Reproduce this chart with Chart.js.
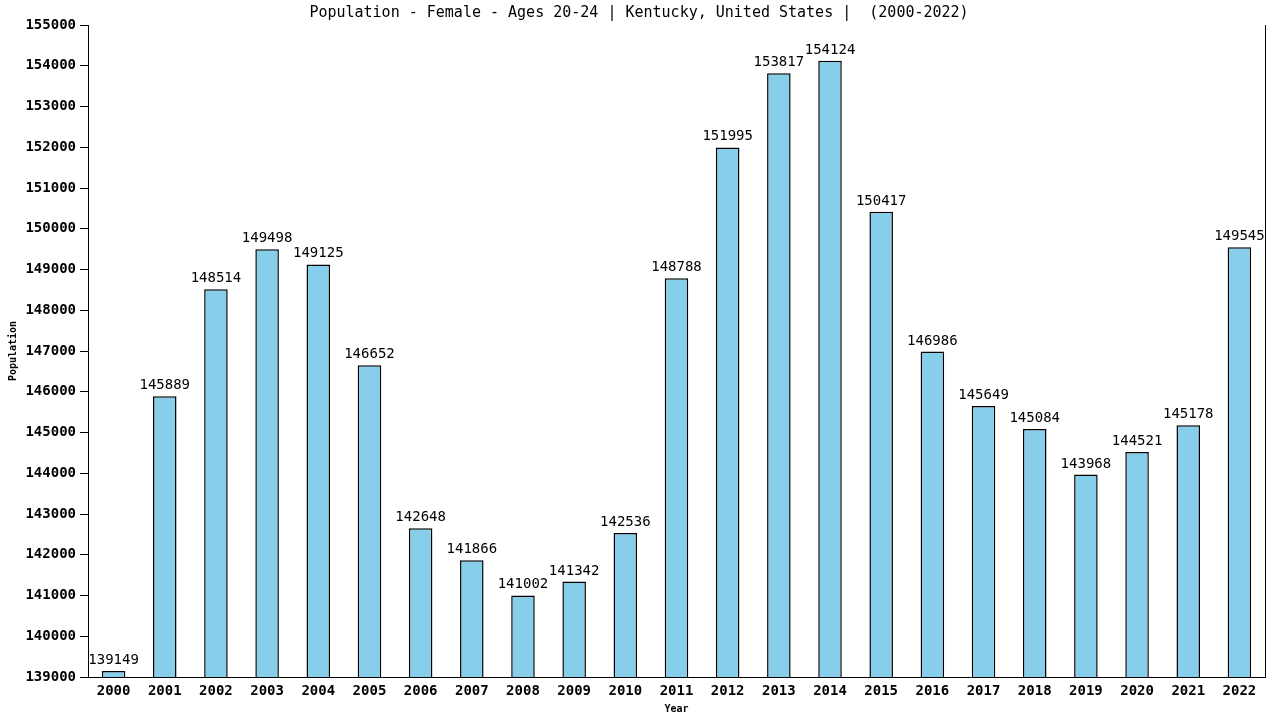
<!DOCTYPE html>
<html lang="en">
<head>
  <meta charset="UTF-8">
  <title>Population - Female - Ages 20-24 | Kentucky</title>
  <script src="https://cdn.jsdelivr.net/npm/chart.js@4.4.1/dist/chart.umd.min.js"></script>
  <style>
    body {
      margin: 0;
      padding: 0;
      background-color: #ffffff;
    }
    #wrap {
      width: 1280px;
      height: 720px;
    }
  </style>
</head>
<body>
  <div id="wrap">
    <canvas id="chart" width="1280" height="720"></canvas>
  </div>

  <script>
    // data
    const years = ['2000', '2001', '2002', '2003', '2004', '2005', '2006', '2007', '2008', '2009', '2010', '2011',
                   '2012', '2013', '2014', '2015', '2016', '2017', '2018', '2019', '2020', '2021', '2022'];
    const population = [139149, 145889, 148514, 149498, 149125, 146652, 142648, 141866, 141002, 141342, 142536, 148788,
                        151995, 153817, 154124, 150417, 146986, 145649, 145084, 143968, 144521, 145178, 149545];
    const yMin = 139000;
    const yMax = 155000;
    const yStep = 1000;
    const chartTitle = 'Population - Female - Ages 20-24 | Kentucky, United States |  (2000-2022)';

    const mono = "'DejaVu Sans Mono', 'Liberation Mono', monospace";

    // title, right border and the value above each bar
    const extras = {
      id: 'extras',
      afterDraw(chart) {
        const ctx = chart.ctx;
        const area = chart.chartArea;
        ctx.save();

        ctx.strokeStyle = '#000000';
        ctx.lineWidth = 1;
        ctx.beginPath();
        ctx.moveTo(Math.round(area.right) + 0.5, area.top);
        ctx.lineTo(Math.round(area.right) + 0.5, area.bottom);
        ctx.stroke();

        ctx.fillStyle = '#000000';
        ctx.font = '15px ' + mono;
        ctx.textAlign = 'center';
        ctx.textBaseline = 'middle';
        ctx.fillText(chartTitle, 639, 13);

        ctx.font = '14px ' + mono;
        ctx.textBaseline = 'alphabetic';
        const meta = chart.getDatasetMeta(0);
        meta.data.forEach((bar, i) => {
          ctx.fillText(String(population[i]), bar.x, bar.y - 7);
        });
        ctx.restore();
      }
    };

    const ctx = document.getElementById('chart').getContext('2d');
    new Chart(ctx, {
      type: 'bar',
      data: {
        labels: years,
        datasets: [{
          label: 'Population',
          data: population,
          backgroundColor: '#87CEEB',
          borderColor: '#000000',
          borderWidth: 1.5,
          barPercentage: 0.46,
          categoryPercentage: 1.0
        }]
      },
      options: {
        responsive: false,
        devicePixelRatio: 1,
        animation: false,
        layout: {
          padding: { top: 25, right: 15, left: 0, bottom: 0 }
        },
        plugins: {
          legend: { display: false },
          title: { display: false },
          tooltip: { enabled: false }
        },
        scales: {
          x: {
            afterFit(scale) { scale.height = 43; },
            grid: { display: false, drawTicks: false },
            border: { display: true, color: '#000000', width: 1 },
            ticks: {
              color: '#000000',
              padding: 6,
              maxRotation: 0,
              autoSkip: false,
              font: { family: mono, size: 14, weight: 'bold' }
            },
            title: {
              display: true,
              text: 'Year',
              color: '#000000',
              font: { family: mono, size: 10, weight: 'bold' },
              padding: { top: 0, bottom: 5 }
            }
          },
          y: {
            min: yMin,
            max: yMax,
            afterFit(scale) { scale.width = 88; },
            grid: {
              drawOnChartArea: false,
              drawTicks: true,
              tickLength: 8,
              tickColor: '#000000'
            },
            border: { display: true, color: '#000000', width: 1 },
            ticks: {
              stepSize: yStep,
              color: '#000000',
              padding: 4,
              font: { family: mono, size: 14, weight: 'bold' },
              callback: (value) => String(value)
            },
            title: {
              display: true,
              text: 'Population',
              color: '#000000',
              font: { family: mono, size: 10, weight: 'bold' },
              padding: { top: 7, bottom: 0 }
            }
          }
        }
      },
      plugins: [extras]
    });
  </script>
</body>
</html>
